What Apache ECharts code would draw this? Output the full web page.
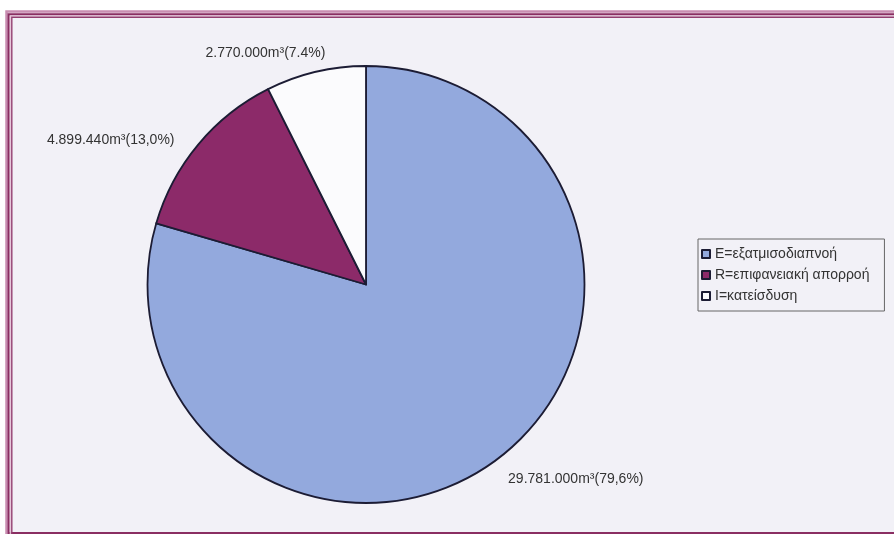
<!DOCTYPE html>
<html>
<head>
<meta charset="utf-8">
<script src="https://cdn.jsdelivr.net/npm/echarts@6/dist/echarts.min.js"></script>
<style>
  html, body { margin: 0; padding: 0; background: #ffffff; }
  #chart { width: 894px; height: 534px; }
</style>
</head>
<body>
<div id="chart"></div>
<script>
// ---- data ----
const categories = ['E=εξατμισοδιαπνοή', 'R=επιφανειακή απορροή', 'I=κατείσδυση'];
const volumes = [29781000, 4899440, 2770000];          // m³
const percentLabels = ['79,6%', '13,0%', '7.4%'];      // as printed

// ---- styling ----
const sliceColors = ['#93a9dd', '#8c2a69', '#fbfbfd'];
const labelShift = [[0, 12], [-11, 2], [17, -9]];
const FONT = '"Liberation Sans", Arial, sans-serif';

function fmt(v) {
  return String(v).replace(/\B(?=(\d{3})+(?!\d))/g, '.');
}

const chart = echarts.init(document.getElementById('chart'), null, { renderer: 'canvas' });

chart.setOption({
  backgroundColor: '#ffffff',
  animation: false,
  graphic: [
    { type: 'rect', z: -10, silent: true,
      shape: { x: 6.5, y: 11.5, width: 1000, height: 600 },
      style: { fill: '#f2f1f7', stroke: '#c98db1', lineWidth: 2.5 } },
    { type: 'rect', z: -9, silent: true,
      shape: { x: 8.6, y: 14.3, width: 1000, height: 518.7 },
      style: { fill: null, stroke: '#8a2e62', lineWidth: 2.2 } },
    { type: 'rect', z: -9, silent: true,
      shape: { x: 10.3, y: 15.9, width: 1000, height: 600 },
      style: { fill: null, stroke: '#e4c3d6', lineWidth: 1.2 } },
    { type: 'rect', z: -9, silent: true,
      shape: { x: 11.8, y: 17.2, width: 1000, height: 600 },
      style: { fill: null, stroke: '#933f70', lineWidth: 1.4 } }
  ],
  legend: {
    orient: 'vertical',
    left: 698,
    top: 239,
    data: categories,
    icon: 'rect',
    itemWidth: 8,
    itemHeight: 8,
    itemGap: 7,
    padding: [8, 15, 8, 3],
    borderColor: '#666',
    borderWidth: 1,
    backgroundColor: 'transparent',
    textStyle: { fontFamily: FONT, fontSize: 14, color: '#333' }
  },
  series: [{
    type: 'pie',
    center: [366, 284.5],
    radius: 218.5,
    startAngle: 90,
    clockwise: true,
    avoidLabelOverlap: false,
    itemStyle: { borderColor: '#1c1c34', borderWidth: 1.8 },
    emphasis: { disabled: true },
    label: {
      show: true,
      position: 'outside',
      fontFamily: FONT,
      fontSize: 14,
      color: '#333',
      formatter: function (p) {
        return fmt(volumes[p.dataIndex]) + 'm³(' + percentLabels[p.dataIndex] + ')';
      }
    },
    labelLine: { show: false, length: 10, length2: 0 },
    labelLayout: function (p) {
      const s = labelShift[p.dataIndex];
      return { dx: s[0], dy: s[1] };
    },
    data: categories.map(function (c, i) {
      return { name: c, value: volumes[i], itemStyle: { color: sliceColors[i] } };
    })
  }]
});
</script>
</body>
</html>
